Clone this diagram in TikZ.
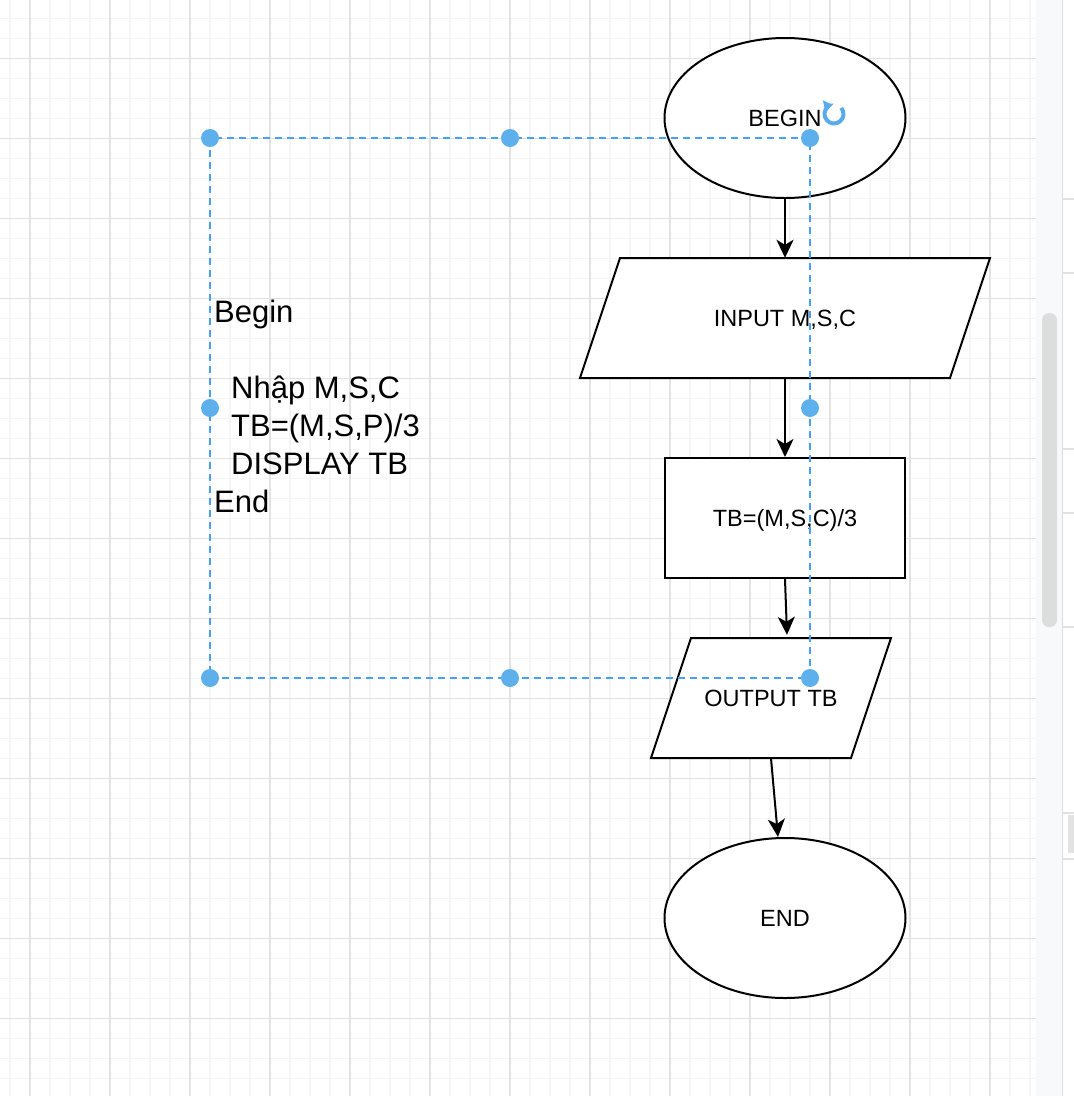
\documentclass[tikz,border=0pt]{standalone}
\usepackage{fontspec}
\setmainfont{Liberation Sans}
\usetikzlibrary{arrows.meta,shapes.geometric}
\definecolor{gridmaj}{RGB}{226,226,226}
\definecolor{gridmin}{RGB}{245,245,245}
\definecolor{selblue}{RGB}{72,160,240}
\definecolor{iconblue}{RGB}{88,172,238}
\definecolor{handle}{RGB}{94,176,236}
\definecolor{panel}{RGB}{248,249,250}
\definecolor{thumb}{RGB}{220,221,221}
\definecolor{panelline}{RGB}{218,220,224}
\definecolor{panelmark}{RGB}{226,226,226}
\begin{document}
\begin{tikzpicture}[x=1pt,y=-1pt,
  shapeline/.style={draw=black,line width=2pt,fill=white},
  shapetext/.style={font=\fontsize{23.5}{28}\selectfont,inner sep=0pt,text height=16.8pt,text depth=0pt},
  flow/.style={draw=black,line width=2pt,-{Stealth[length=18pt,width=17pt,inset=5pt]}},
  sel/.style={draw=selblue,line width=1.8pt,dash pattern=on 7pt off 5pt},
  handledot/.style={circle,fill=handle,minimum size=18pt,inner sep=0pt},
]
\useasboundingbox (0,0) rectangle (1074,1096);
\fill[white] (0,0) rectangle (1074,1096);
% grid
\foreach \x in {10,30,...,1030} \draw[gridmin,line width=1.5pt] (\x,0) -- (\x,1096);
\foreach \y in {18.5,38.5,...,1090} \draw[gridmin,line width=1.5pt] (0,\y) -- (1036,\y);
\foreach \x in {30,110,...,1030} \draw[gridmaj,line width=1.6pt] (\x,0) -- (\x,1096);
\foreach \y in {58.5,138.5,...,1090} \draw[gridmaj,line width=1.6pt] (0,\y) -- (1036,\y);
% scrollbar panel
\fill[panel] (1036,0) rectangle (1062,1096);
\fill[thumb,rounded corners=7pt] (1042,313) rectangle (1057,627);
\draw[panelline,line width=1.5pt] (1062.5,0) -- (1062.5,1096);
\foreach \y in {199,273,449,513,627,813,859} \draw[panelmark,line width=1.2pt] (1063,\y) -- (1074,\y);
\fill[panelmark] (1068,815) rectangle (1074,853);
% flowchart shapes
\node[shapeline,shapetext,ellipse,minimum width=241pt,minimum height=160pt] (begin) at (785,118) {BEGIN};
\draw[shapeline] (620,258) -- (990,258) -- (950,378) -- (580,378) -- cycle;
\node[shapetext,minimum width=370pt,minimum height=120pt] (input) at (785,318) {INPUT M,S,C};
\node[shapeline,shapetext,minimum width=240pt,minimum height=120pt] (calc) at (785,518) {TB=(M,S,C)/3};
\draw[shapeline] (691,638) -- (891,638) -- (851,758) -- (651,758) -- cycle;
\node[shapetext,minimum width=200pt,minimum height=120pt] (output) at (771,698) {OUTPUT TB};
\node[shapeline,shapetext,ellipse,minimum width=241pt,minimum height=160pt] (end) at (785,918) {END};
% connectors
\draw[flow] (begin.south) -- (input.north);
\draw[flow] (input.south) -- (calc.north);
\draw[flow] (calc.south) -- ([xshift=16pt,yshift=3pt]output.north);
\draw[flow] (output.south) -- ([xshift=-7pt]end.north);
% pseudo code text
\node[anchor=north west,align=left,inner sep=0pt,font=\fontsize{31}{38}\selectfont] (pseudo) at (214,300)
  {Begin\\[38pt]\hspace*{17pt}Nhập M,S,C\\ \hspace*{17pt}TB=(M,S,P)/3\\ \hspace*{17pt}DISPLAY TB\\ End};
% selection box
\draw[sel] (210,138) rectangle (810,678);
\foreach \p/\n in {{(210,138)}/h1,{(510,138)}/h2,{(810,138)}/h3,{(210,408)}/h4,{(810,408)}/h5,{(210,678)}/h6,{(510,678)}/h7,{(810,678)}/h8}
  \node[handledot] (\n) at \p {};
% rotate icon
\draw[iconblue,line width=4pt,-{Triangle[length=8pt,width=12pt]}] (834,114) ++(40:9.5pt) arc[start angle=40,end angle=-258,radius=9.5pt];
\end{tikzpicture}
\end{document}
